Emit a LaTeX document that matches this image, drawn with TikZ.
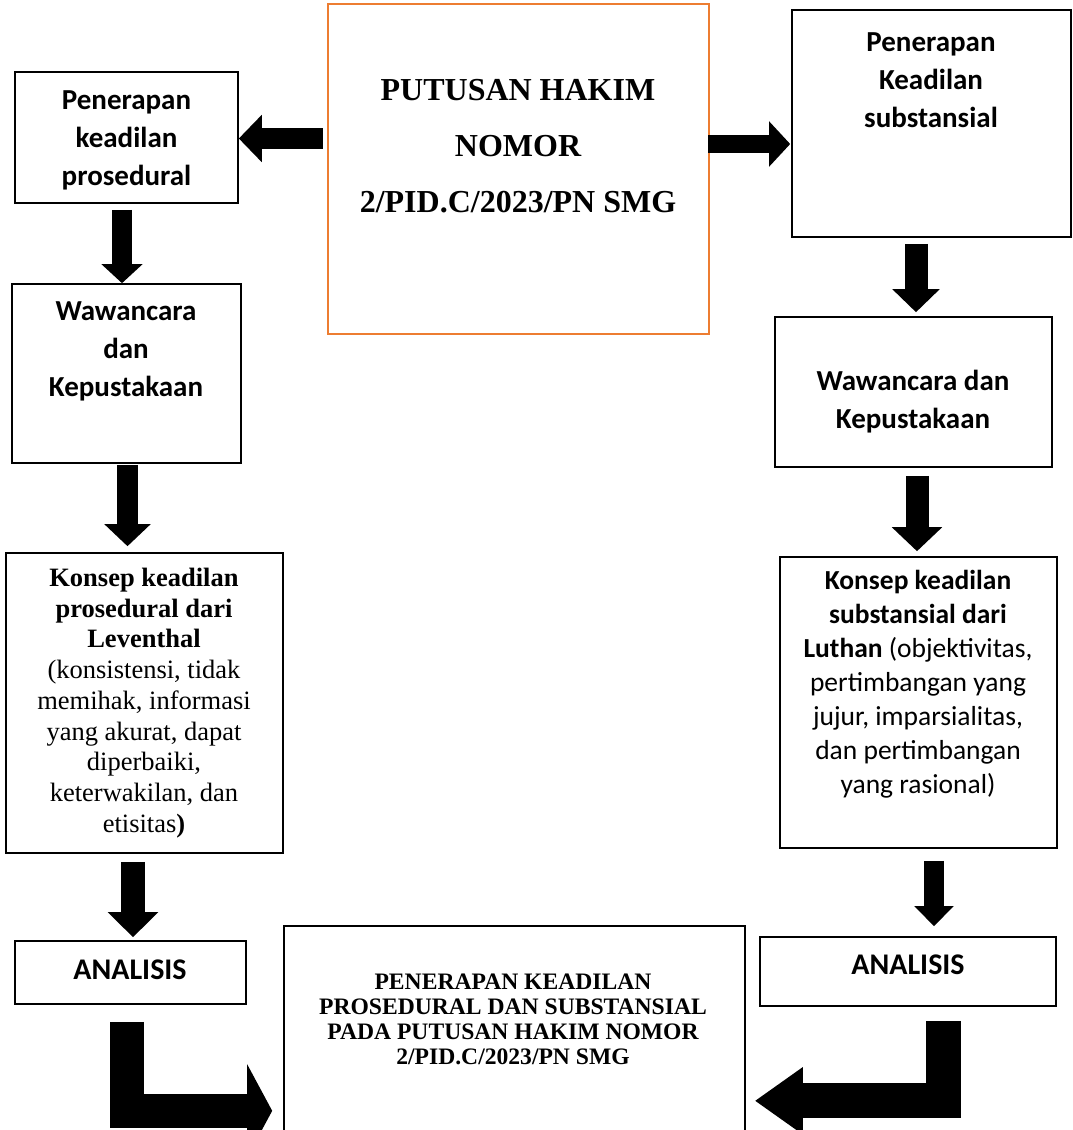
\documentclass[tikz,border=0pt]{standalone}
\usepackage{fontspec}
\setmainfont{Liberation Serif}
\newfontfamily\calib{Carlito}
\usetikzlibrary{arrows.meta,calc,positioning}
\definecolor{judgeorange}{HTML}{ED7D31}
\tikzset{
  box/.style={draw, line width=1.6pt, inner sep=0pt},
  sanslbl/.style={font=\calib\bfseries\fontsize{29}{38}\selectfont, align=center},
  anlbl/.style={font=\calib\bfseries\fontsize{30}{34}\selectfont, align=center},
  fat/.style n args={3}{line width=#1, -{Triangle[width=#2,length=#3]}}
}

\begin{document}
\begin{tikzpicture}[x=1pt,y=-1pt]
\useasboundingbox (0,0) rectangle (1072,1130);
\clip (0,0) rectangle (1072,1130);
\fill[white] (0,0) rectangle (1072,1130);

% boxes
\node[box, draw=judgeorange, line width=2.2pt, minimum width=381pt, minimum height=330pt] (O) at (518.5,169) {};
\node[box, minimum width=223pt, minimum height=131pt] (A) at (126.5,137.5) {};
\node[box, minimum width=229pt, minimum height=179pt] (B) at (126.5,373.5) {};
\node[box, minimum width=277pt, minimum height=300pt] (E) at (144.5,703) {};
\node[box, minimum width=231pt, minimum height=63pt] (ANL) at (130.5,972.5) {};
\node[box, minimum width=279pt, minimum height=227pt] (C) at (931.5,123.5) {};
\node[box, minimum width=277pt, minimum height=150pt] (D) at (913.5,392) {};
\node[box, minimum width=277pt, minimum height=291pt] (F) at (918.5,702.5) {};
\node[box, minimum width=296pt, minimum height=69pt] (ANR) at (908,971.5) {};
\node[box, minimum width=461pt, minimum height=214pt] (G) at (514.5,1033) {};

% texts
\node[font=\bfseries\fontsize{32}{56}\selectfont, align=center] (tO) at (518,146) {PUTUSAN HAKIM\\NOMOR\\2/PID.C/2023/PN SMG};
\node[sanslbl] (tA) at (126.5,140.5) {Penerapan\\keadilan\\prosedural};
\node[sanslbl] (tB) at (126,351.5) {Wawancara\\dan\\Kepustakaan};
\node[font=\fontsize{26.5}{30.75}\selectfont, align=center] (tE) at (144,703) {\textbf{Konsep keadilan}\\\textbf{prosedural dari}\\\textbf{Leventhal}\\(konsistensi, tidak\\memihak, informasi\\yang akurat, dapat\\diperbaiki,\\keterwakilan, dan\\etisitas\textbf{)}};
\node[anlbl] (tANL) at (130,970) {ANALISIS};
\node[sanslbl] (tC) at (931,80) {Penerapan\\Keadilan\\substansial};
\node[sanslbl] (tD) at (913,401.5) {Wawancara dan\\Kepustakaan};
\node[font=\calib\fontsize{27.5}{34}\selectfont, align=center] (tF) at (918,684) {\textbf{Konsep keadilan}\\\textbf{substansial dari}\\\textbf{Luthan} (objektivitas,\\pertimbangan yang\\jujur, imparsialitas,\\dan pertimbangan\\yang rasional)};
\node[anlbl] (tANR) at (908,965) {ANALISIS};
\node[font=\bfseries\fontsize{23.6}{25}\selectfont, align=center] (tG) at (513,1019.5) {PENERAPAN KEADILAN\\PROSEDURAL DAN SUBSTANSIAL\\PADA PUTUSAN HAKIM NOMOR\\2/PID.C/2023/PN SMG};

% arrows out of the judgement
\draw[fat={21pt}{46pt}{23pt}] ($(O.west)+(-4,-30.5)$) coordinate (p7) -- (p7 -| A.east);
\draw[fat={18pt}{44pt}{21pt}, shorten >=1pt] ($(O.east)+(-2,-25)$) coordinate (p8) -- (p8 -| C.west);

% left column
\draw[fat={20pt}{40pt}{19pt}] ($(A.south)+(-4.5,6)$) coordinate (p1) -- (p1 |- B.north);
\draw[fat={21pt}{45pt}{22pt}, shorten >=6pt] ($(B.south)+(1,1)$) coordinate (p2) -- (p2 |- E.north);
\draw[fat={24pt}{49pt}{25pt}, shorten >=3pt] ($(E.south)+(-11.5,8)$) coordinate (p3) -- (p3 |- ANL.north);

% right column
\draw[fat={23pt}{46pt}{23pt}, shorten >=4pt] ($(C.south)+(-15.5,6)$) coordinate (p4) -- (p4 |- D.north);
\draw[fat={23pt}{49pt}{24pt}, shorten >=5pt] ($(D.south)+(3.5,8)$) coordinate (p5) -- (p5 |- F.north);
\draw[fat={20pt}{38pt}{20pt}, shorten >=10pt] ($(F.south)+(15.5,12)$) coordinate (p6) -- (p6 |- ANR.north);

% bent arrows into the result
\draw[fat={34pt}{92pt}{25pt}] ($(ANL.south)+(-3.5,17)$) |- ($(G.south west)+(-11,-30)$);
\draw[fat={35pt}{64pt}{48pt}] ($(ANR.south)+(35,14)$) |- ($(G.south east)+(9,-40)$);
\end{tikzpicture}
\end{document}
